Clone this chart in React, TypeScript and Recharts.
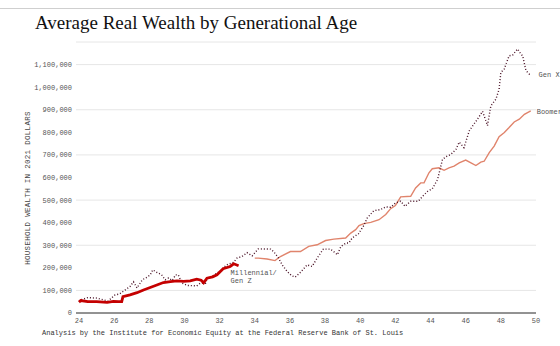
import React from 'react'
import { LineChart, Line, XAxis, YAxis, CartesianGrid } from 'recharts'

const ageTicks = [24, 26, 28, 30, 32, 34, 36, 38, 40, 42, 44, 46, 48, 50]
const wealthTicks = [0, 100000, 200000, 300000, 400000, 500000, 600000, 700000, 800000, 900000, 1000000, 1100000]

// [average age, wealth in thousands of 2021 dollars]
const genX: [number, number][] = [
  [24.0, 50], [24.1, 58], [24.5, 68], [25.0, 66], [25.4, 58], [25.65, 53], [26.05, 80], [26.3, 84],
  [26.5, 95], [26.9, 117], [27.1, 138], [27.3, 111], [27.6, 147], [27.9, 160], [28.05, 169], [28.2, 191],
  [28.45, 179], [28.7, 169], [28.9, 147], [29.1, 155], [29.3, 144], [29.5, 169], [29.65, 169], [29.85, 133],
  [30.15, 122], [30.7, 120], [30.9, 132], [31.2, 132], [31.3, 155], [31.6, 164], [32.0, 184], [32.4, 213],
  [32.8, 225], [33.0, 244], [33.27, 250], [33.56, 267], [33.85, 253], [34.2, 284], [34.9, 283], [35.07, 272],
  [35.35, 244], [35.56, 213], [35.84, 184], [36.1, 165], [36.3, 159], [36.6, 180], [36.98, 213], [37.26, 206],
  [37.55, 243], [37.9, 283], [38.3, 283], [38.6, 265], [38.7, 258], [38.9, 295], [39.2, 310], [39.35, 310],
  [39.55, 333], [39.9, 351], [40.2, 387], [40.4, 421], [40.77, 453], [41.16, 458], [41.45, 470], [41.73, 468],
  [42.0, 487], [42.3, 495], [42.55, 472], [42.87, 495], [43.3, 495], [43.55, 517], [43.84, 539], [44.1, 550],
  [44.4, 591], [44.68, 680], [44.87, 692], [45.15, 702], [45.44, 724], [45.63, 757], [45.9, 732], [46.2, 806],
  [46.39, 828], [46.67, 858], [46.96, 893], [47.24, 830], [47.43, 917], [47.72, 947], [47.9, 990], [48.0, 1065],
  [48.19, 1080], [48.47, 1139], [48.67, 1142], [48.95, 1169], [49.14, 1147], [49.24, 1139], [49.43, 1073],
  [49.62, 1058], [49.75, 1062],
]

const boomers: [number, number][] = [
  [34.0, 243], [34.2, 243], [34.7, 239], [35.15, 232], [35.46, 250], [36.03, 272], [36.6, 272], [37.07, 295],
  [37.55, 302], [38.03, 321], [38.5, 327], [39.17, 332], [39.46, 354], [39.74, 369], [39.93, 387], [40.2, 396],
  [40.6, 401], [41.07, 413], [41.45, 436], [41.73, 462], [42.0, 476], [42.3, 514], [42.87, 517], [43.15, 554],
  [43.44, 576], [43.63, 576], [43.91, 621], [44.1, 639], [44.48, 643], [44.77, 632], [45.05, 643], [45.34, 650],
  [45.63, 665], [46.0, 677], [46.3, 665], [46.58, 653], [46.86, 668], [47.05, 672], [47.34, 710], [47.62, 739],
  [47.9, 781], [48.2, 799], [48.47, 821], [48.76, 846], [49.05, 858], [49.34, 880], [49.7, 895],
]

const millennials: [number, number][] = [
  [24.0, 48], [24.1, 55], [24.5, 50], [25.0, 50], [25.6, 47], [25.96, 51], [26.24, 50], [26.43, 50],
  [26.5, 72], [26.9, 80], [27.3, 90], [27.67, 102], [28.05, 113], [28.43, 124], [28.8, 135], [29.2, 139],
  [29.57, 142], [29.95, 140], [30.33, 142], [30.7, 150], [30.95, 145], [31.09, 134], [31.28, 154], [31.6, 160],
  [31.85, 169], [32.2, 196], [32.6, 206], [32.8, 218], [33.08, 209],
]

const toPoints = (rows: [number, number][]) => rows.map(([age, k]) => ({ age, value: k * 1000 }))

const mono = '"Liberation Mono", "DejaVu Sans Mono", monospace'

const endLabel = (lines: string[], count: number, dx: number, dy: number) => (props: any) => {
  if (props.index !== count - 1) return null
  return (
    <text x={props.x + dx} y={props.y + dy} fontFamily={mono} fontSize={7} fill="#555">
      {lines.map((t, i) => (
        <tspan key={i} x={props.x + dx} dy={i === 0 ? 0 : 8}>{t}</tspan>
      ))}
    </text>
  )
}

export default function App() {
  return (
    <div style={{ position: 'absolute', left: 0, top: 0, width: 560, height: 346, background: '#fff', overflow: 'hidden' }}>
      <div style={{ position: 'absolute', left: 0, top: 8, width: 560, height: 1, background: '#cfcfcf' }} />
      <div style={{ position: 'absolute', left: 35, top: 12, fontFamily: '"Liberation Serif", serif', fontSize: 19, color: '#111', whiteSpace: 'nowrap' }}>
        Average Real Wealth by Generational Age
      </div>
      <div style={{ position: 'absolute', left: 28, top: 188, transform: 'translate(-50%, -50%) rotate(-90deg)', fontFamily: mono, fontSize: 7.5, letterSpacing: 0.3, color: '#444', whiteSpace: 'nowrap' }}>
        HOUSEHOLD WEALTH IN 2021 DOLLARS
      </div>
      <div style={{ position: 'absolute', left: 42, top: 329, fontFamily: mono, fontSize: 7, color: '#333', whiteSpace: 'nowrap' }}>
        Analysis by the Institute for Economic Equity at the Federal Reserve Bank of St. Louis
      </div>
      <LineChart width={560} height={346} margin={{ top: 42, right: 24, bottom: 13, left: 0 }} style={{ position: 'absolute', left: 0, top: 0 }}>
        <CartesianGrid vertical={false} stroke="#e6e6e6" />
        <XAxis
          dataKey="age"
          type="number"
          domain={[24, 50]}
          ticks={ageTicks}
          padding={{ left: 3, right: 0 }}
          height={20}
          axisLine={{ stroke: '#333', strokeWidth: 1 }}
          tickLine={false}
          tickSize={0}
          tickMargin={5}
          tick={{ fontFamily: mono, fontSize: 7, fill: '#555' }}
          allowDuplicatedCategory={false}
        />
        <YAxis
          type="number"
          domain={[0, 1200000]}
          ticks={wealthTicks}
          width={76}
          axisLine={false}
          tickLine={false}
          tickSize={0}
          tickMargin={4}
          tick={{ fontFamily: mono, fontSize: 7, fill: '#555' }}
          tickFormatter={(v: number) => v.toLocaleString('en-US')}
        />
        <Line
          data={toPoints(boomers)}
          dataKey="value"
          type="linear"
          stroke="#e0846c"
          strokeWidth={1.4}
          dot={false}
          activeDot={false}
          isAnimationActive={false}
          label={endLabel(['Boomers'], boomers.length, 6, 3)}
        />
        <Line
          data={toPoints(genX)}
          dataKey="value"
          type="linear"
          stroke="#4a1226"
          strokeWidth={1.4}
          strokeDasharray="1 2"
          dot={false}
          activeDot={false}
          isAnimationActive={false}
          label={endLabel(['Gen X'], genX.length, 7, 4)}
        />
        <Line
          data={toPoints(millennials)}
          dataKey="value"
          type="linear"
          stroke="#c40000"
          strokeWidth={2.8}
          dot={false}
          activeDot={false}
          isAnimationActive={false}
          label={endLabel(['Millennial/', 'Gen Z'], millennials.length, -8, 9)}
        />
      </LineChart>
    </div>
  )
}
